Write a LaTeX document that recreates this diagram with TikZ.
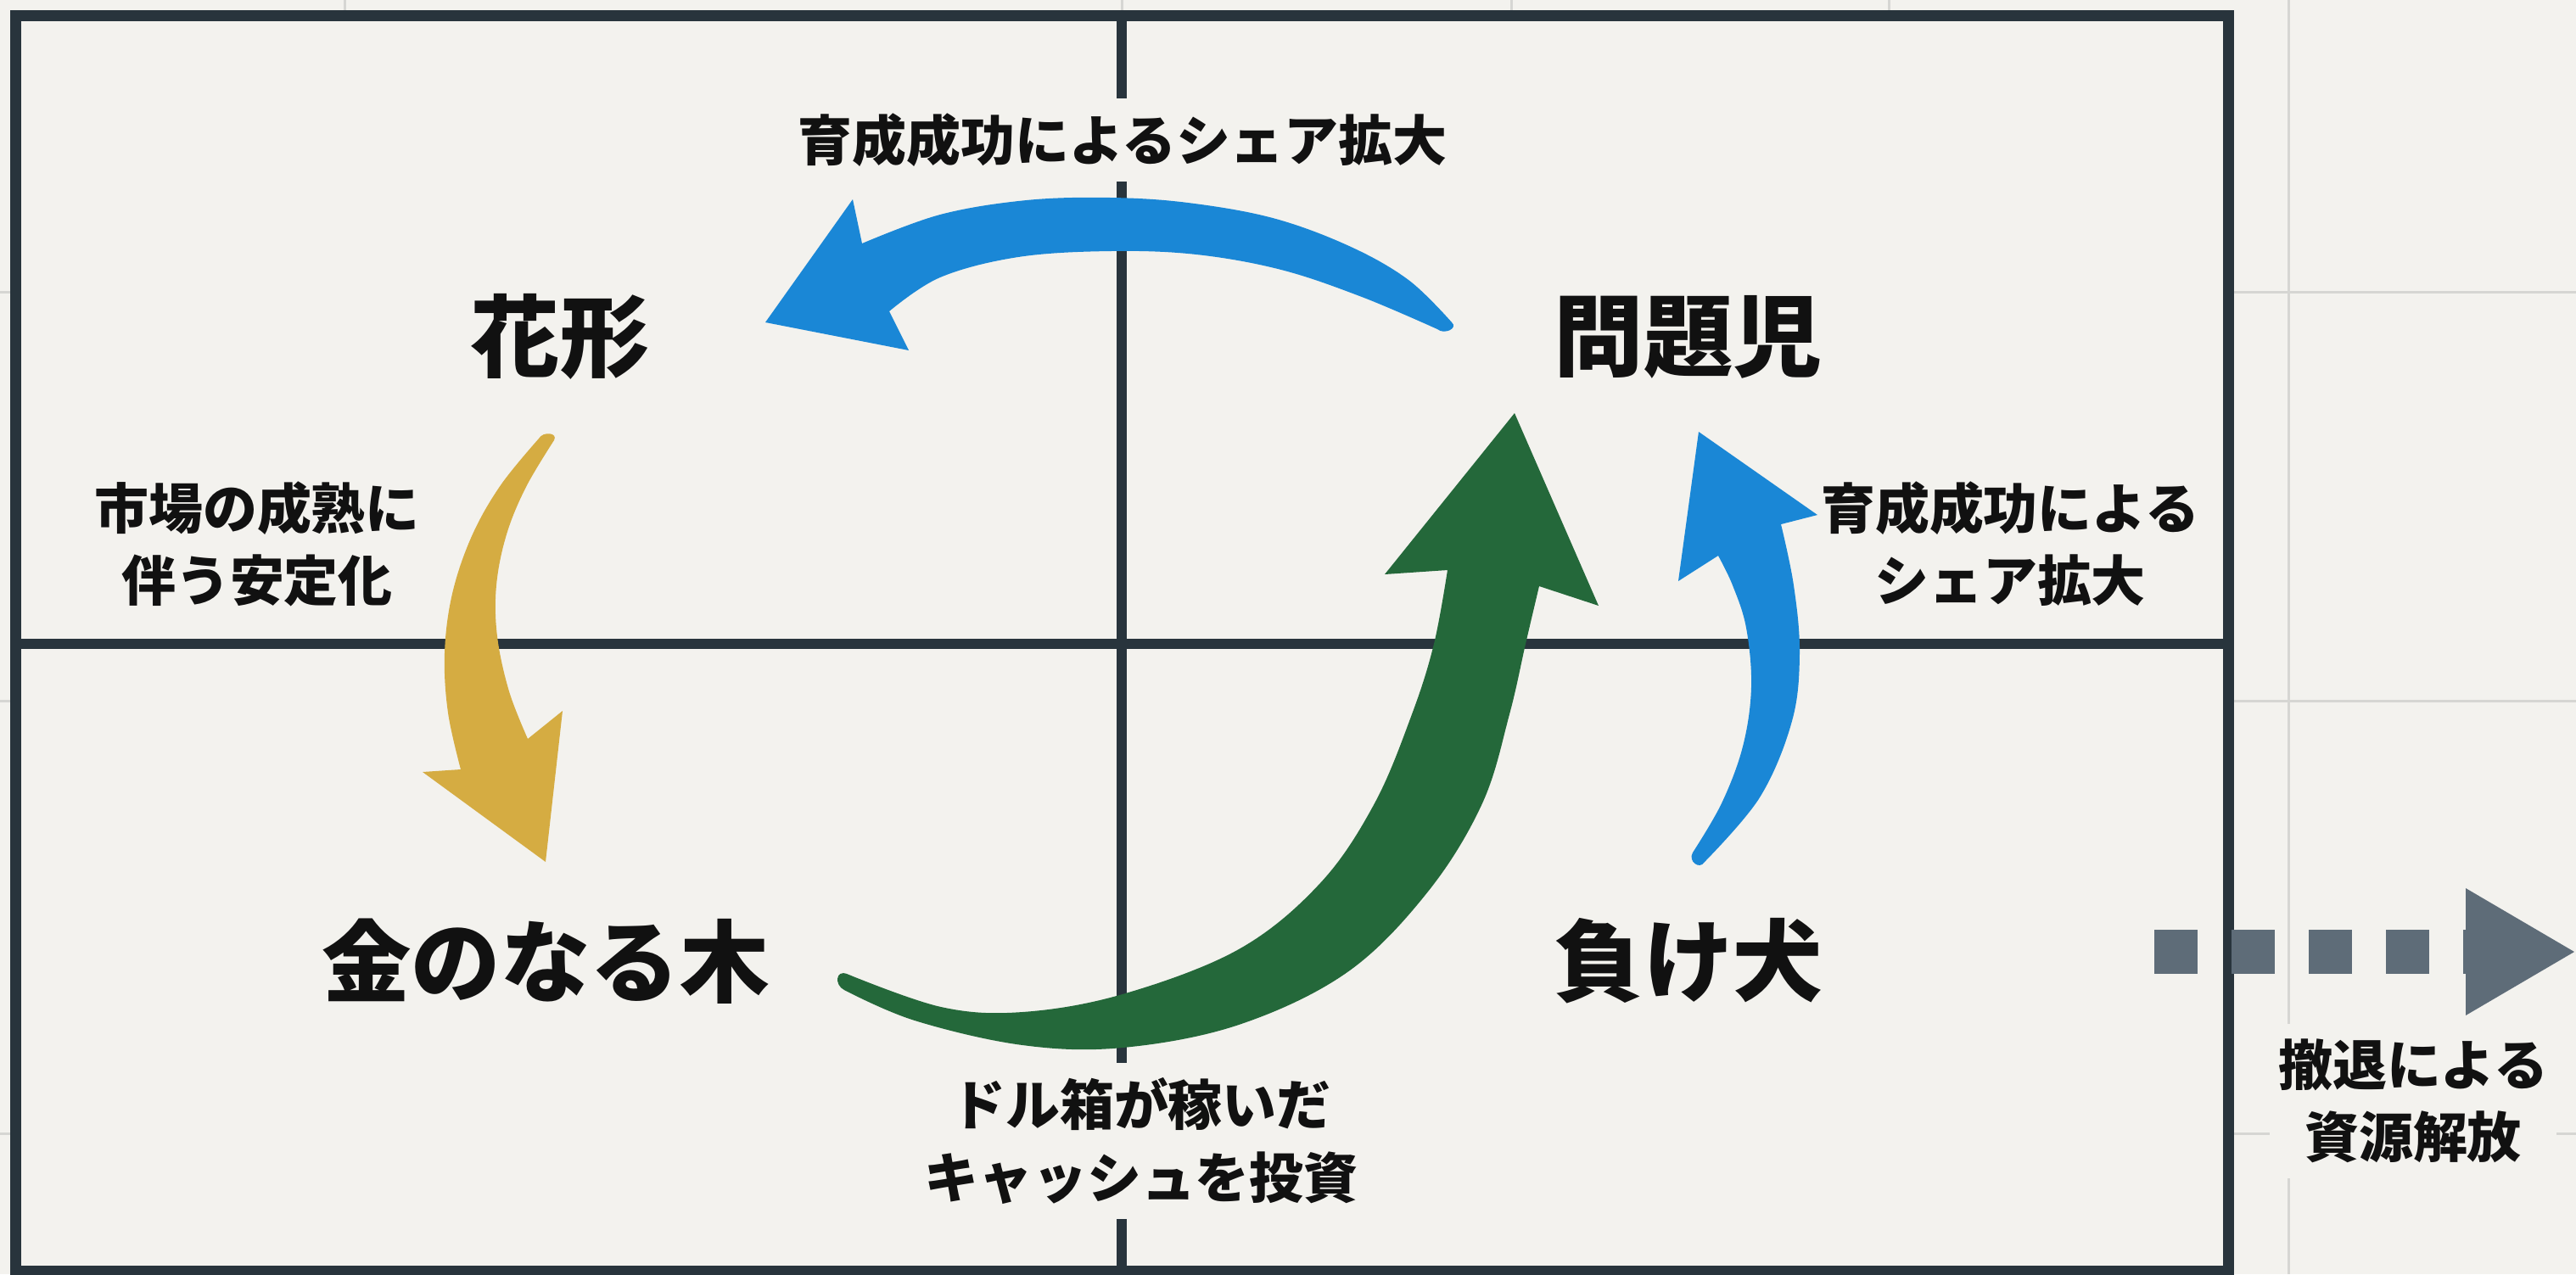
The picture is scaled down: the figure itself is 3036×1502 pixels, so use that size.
\documentclass[tikz,border=0pt]{standalone}
\usepackage{fontspec}
\setmainfont{Noto Sans CJK JP}
\definecolor{bgc}{RGB}{243,242,238}
\definecolor{gridc}{RGB}{214,214,211}
\definecolor{framec}{RGB}{40,52,60}
\definecolor{inkc}{RGB}{17,17,17}
\definecolor{blueA}{RGB}{26,135,214}
\definecolor{greenA}{RGB}{36,104,58}
\definecolor{goldA}{RGB}{213,172,66}
\definecolor{grayA}{RGB}{94,108,120}
\begin{document}
\begin{tikzpicture}[x=0.1mm,y=-0.1mm,
  big/.style={font=\fontsize{30}{36}\selectfont\bfseries, text=inkc},
  lbl/.style={font=\fontsize{18.2}{24.2}\selectfont\bfseries, align=center, text=inkc},
  gapbox/.style={fill=bgc, inner xsep=1mm, inner ysep=1.8mm},
  gridline/.style={draw=gridc, line width=0.3mm},
  frameline/.style={draw=framec, line width=1.3mm},
  divider/.style={draw=framec, line width=1.2mm}]
\useasboundingbox (0,0) rectangle (3036,1502);
\fill[bgc] (0,0) rectangle (3036,1502);
% faint background grid
\foreach \gx in {406,1322,1781,2226,2697} \draw[gridline] (\gx,0) -- (\gx,1502);
\foreach \gy in {344,826,1336} \draw[gridline] (0,\gy) -- (3036,\gy);
% frame and quadrants
\fill[bgc] (18,18) rectangle (2626,1498);
\draw[frameline] (18,18) rectangle (2626,1498);
\draw[divider] (1322,18) -- (1322,1498);
\draw[divider] (18,759) -- (2626,759);
% labels that interrupt lines
\node[lbl, gapbox] (topL) at (1323,165) {育成成功によるシェア拡大};
\node[lbl, gapbox] (botL) at (1345,1345) {ドル箱が稼いだ\\キャッシュを投資};
\node[lbl, gapbox] (exitL) at (2844,1298) {撤退による\\資源解放};
\node[lbl] (leftL) at (303,641) {市場の成熟に\\伴う安定化};
\node[lbl] (rightL) at (2369,641) {育成成功による\\シェア拡大};
% quadrant names
\node[big] (star) at (660,397) {花形};
\node[big] (qm) at (1990,397) {問題児};
\node[big] (cow) at (643,1133) {金のなる木};
\node[big] (dog) at (1990,1133) {負け犬};
% gold arrow: star -> cash cow
\fill[goldA] plot[smooth, tension=0.6] coordinates {(635,517) (590,572) (556,632) (533,700) (524,770) (528,840) (543,907)}
  -- (498,910) -- (643,1016) -- (663,838)
  -- plot[smooth, tension=0.6] coordinates {(622,871) (600,815) (586,750) (585,690) (597,630) (620,574) (653,519)}
  .. controls (658,510) and (640,508) .. (635,517) -- cycle;
% green arrow: cash cow -> question mark
\fill[greenA] plot[smooth, tension=0.6] coordinates {(998,1148) (1109,1187) (1205,1193) (1323,1172) (1460,1119) (1556,1041) (1620,947) (1664,842) (1690,759) (1706,672)}
  -- (1632,677) -- (1785,487) -- (1884,714)
  -- plot[smooth, tension=0.6] coordinates {(1814,691) (1798,759) (1779,842) (1747,947) (1683,1051) (1588,1146) (1460,1208) (1323,1235) (1205,1232) (1078,1203) (995,1167)}
  .. controls (983,1161) and (985,1143) .. (998,1148) -- cycle;
% blue arrow: dog -> question mark
\fill[blueA] plot[smooth, tension=0.6] coordinates {(1995,1005) (2029,947) (2054,880) (2064,810) (2058,740) (2042,690) (2025,655)}
  -- (1978,685) -- (2002,509) -- (2142,607)
  -- plot[smooth, tension=0.6] coordinates {(2099,618) (2114,690) (2121,770) (2112,850) (2074,940) (2009,1016)}
  .. controls (2003,1026) and (1989,1015) .. (1995,1005) -- cycle;
% blue arrow: question mark -> star
\fill[blueA] plot[smooth, tension=0.6] coordinates {(1711,380) (1660,330) (1590,290) (1500,257) (1400,239) (1309,233) (1210,236) (1108,253) (1016,287)}
  -- (1005,235) -- (902,380) -- (1071,413)
  -- plot[smooth, tension=0.6] coordinates {(1048,367) (1108,327) (1200,303) (1309,296) (1410,300) (1510,318) (1605,350) (1694,388)}
  .. controls (1702,395) and (1719,387) .. (1711,380) -- cycle;
% dotted exit arrow
\coordinate (exitA) at (2539,1122);
\coordinate (exitB) at (2908,1122);
\coordinate (exitTip) at (3034,1122);
\draw[grayA, line width=5.2mm, dash pattern=on 5.1mm off 4mm] (exitA) -- (exitB);
\fill[grayA] (2906,1047) -- (exitTip) -- (2906,1197) -- cycle;
\end{tikzpicture}
\end{document}
